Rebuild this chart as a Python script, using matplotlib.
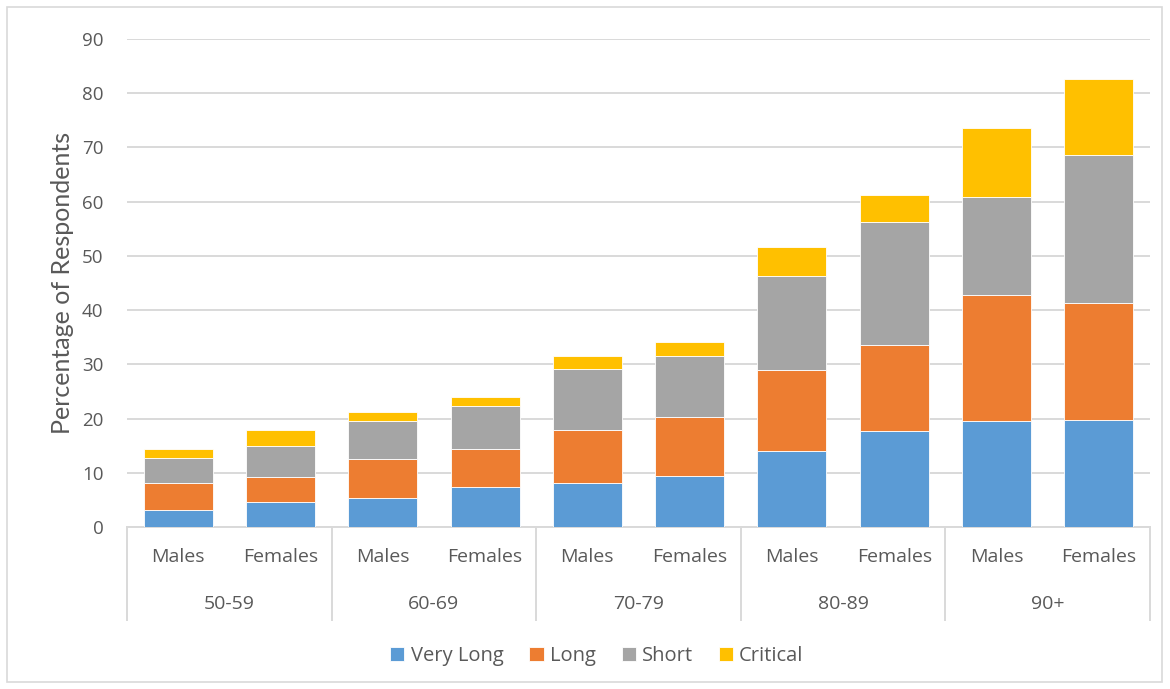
import matplotlib
matplotlib.use("Agg")
import matplotlib.pyplot as plt
from matplotlib.patches import Rectangle
import matplotlib.transforms as mtransforms
import numpy as np

groups = ["50-59", "60-69", "70-79", "80-89", "90+"]
sexes = ["Males", "Females"]
series_names = ["Very Long", "Long", "Short", "Critical"]
very_long = [3.2, 4.7, 5.3, 7.3, 8.1, 9.35, 14.0, 17.7, 19.6, 19.7]
long_ = [5.0, 4.6, 7.3, 7.0, 9.7, 10.95, 14.9, 15.9, 23.1, 21.7]
short = [4.6, 5.7, 6.9, 8.1, 11.4, 11.3, 17.3, 22.7, 18.1, 27.2]
critical = [1.5, 2.9, 1.7, 1.6, 2.3, 2.5, 5.4, 5.0, 12.8, 14.0]
y_ticks = [0, 10, 20, 30, 40, 50, 60, 70, 80, 90]
y_label = "Percentage of Respondents"

colors = ["#5B9BD5", "#ED7D31", "#A5A5A5", "#FFC000"]
text_color = "#595959"
grid_color = "#D9D9D9"
font = ["Open Sans", "DejaVu Sans"]

plt.rcParams["font.family"] = font

W, H = 1170, 689
fig = plt.figure(figsize=(W / 100, H / 100), dpi=100)
ax = fig.add_axes([127 / W, 1 - 527 / H, (1150 - 127) / W, (527 - 39) / H])

x = np.arange(len(very_long))
bottom = np.zeros(len(x))
handles = []
for name, vals, c in zip(series_names, [very_long, long_, short, critical], colors):
    b = ax.bar(x, vals, width=0.675, bottom=bottom, color=c, edgecolor="white",
               linewidth=0.6, label=name, zorder=3)
    handles.append(b)
    bottom += np.array(vals)

ax.set_xlim(-0.5, len(x) - 0.5)
ax.set_ylim(0, 90)
ax.set_yticks(y_ticks)
ax.tick_params(axis="y", length=0, pad=17, labelsize=13.5, labelcolor=text_color)
ax.set_xticks([])
ax.yaxis.grid(True, color=grid_color, linewidth=1.4, zorder=0)
ax.set_axisbelow(True)
for s in ["top", "right", "left"]:
    ax.spines[s].set_visible(False)
ax.spines["bottom"].set_color(grid_color)
ax.spines["bottom"].set_linewidth(1.4)

ax.set_ylabel(y_label, fontsize=18, color=text_color, labelpad=6,
              family=["Lato", "DejaVu Sans"])

trans = mtransforms.blended_transform_factory(ax.transData, ax.transAxes)
axh = 527 - 39
y_sub = -(557 - 527) / axh
y_grp = -(604 - 527) / axh
y_line_end = -(620 - 527) / axh
for i in range(len(x)):
    ax.text(x[i], y_sub, sexes[i % 2], transform=trans, ha="center", va="center",
            fontsize=14, color=text_color)
for g, name in enumerate(groups):
    ax.text(2 * g + 0.5, y_grp, name, transform=trans, ha="center", va="center",
            fontsize=14, color=text_color)
for k in range(len(groups) + 1):
    xs = 2 * k - 0.5
    ax.plot([xs, xs], [0, y_line_end], transform=trans, color=grid_color,
            linewidth=1.4, clip_on=False)

leg = fig.legend(handles=handles, labels=series_names, loc="center",
                 bbox_to_anchor=(597 / W, 1 - 656 / H), ncol=4, frameon=False,
                 fontsize=14.5, handlelength=0.7, handleheight=0.7,
                 handletextpad=0.3, columnspacing=1.3)
for t in leg.get_texts():
    t.set_color(text_color)

fig.patches.append(Rectangle((7 / W, 7 / H), (1162 - 7) / W, (682 - 7) / H,
                             transform=fig.transFigure, fill=False,
                             edgecolor=grid_color, linewidth=1.2))

fig.savefig("out.png", dpi=100, facecolor="white")
